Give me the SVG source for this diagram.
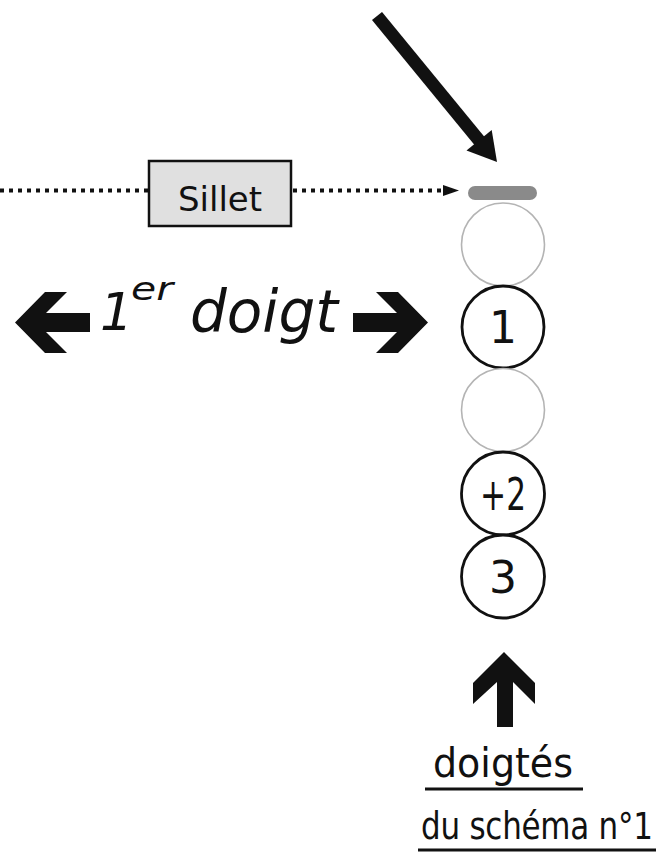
<svg xmlns="http://www.w3.org/2000/svg" width="663" height="854" viewBox="0 0 663 854">
<style>
  .txt { font-family: "DejaVu Sans", "Liberation Sans", sans-serif; fill: #111; }
  .ring { fill: #fff; stroke: #111; stroke-width: 2.8; }
  .faint { fill: #fff; stroke: #b4b4b4; stroke-width: 1.6; }
  .dots { stroke: #111; stroke-width: 4; stroke-dasharray: 4 5; fill: none; }
  .blk { fill: #111; }
  .ul { stroke: #111; stroke-width: 3; }
</style>
<rect width="663" height="854" fill="#fff"/>

<g id="connectors">
  <line x1="377" y1="16" x2="482" y2="144" stroke="#111" stroke-width="13"/>
  <polygon class="blk" points="497,162 491.7,130 466.5,150.5"/>
  <line class="dots" x1="0" y1="190.5" x2="149" y2="190.5"/>
  <line class="dots" x1="293" y1="190.5" x2="445" y2="190.5"/>
  <polygon class="blk" points="443,185 459,190.5 443,196"/>
  <polygon class="blk" points="15,322.5 45,292 67,292 46,313 90,313 90,332 46,332 67,353 45,353"/>
  <polygon class="blk" points="428,322.5 398,292 376,292 397,313 353,313 353,332 397,332 376,353 398,353"/>
  <polygon class="blk" points="504,652 535,683 535,704 513,682 513,727 497,727 497,682 473,704 473,683"/>
</g>

<g id="sillet">
  <rect x="149" y="161" width="142" height="65" fill="#e0e0e0" stroke="#111" stroke-width="2.5"/>
  <text class="txt" x="220" y="211" font-size="34" text-anchor="middle">Sillet</text>
</g>

<g id="nut">
  <rect x="468" y="186" width="69" height="14" rx="7" fill="#8a8a8a"/>
</g>

<g id="circle-open-1"><circle class="faint" cx="503" cy="244.5" r="41.5"/></g>
<g id="circle-1">
  <circle class="ring" cx="503" cy="327" r="41"/>
  <text class="txt" x="503" y="343" font-size="44" text-anchor="middle">1</text>
</g>
<g id="circle-open-2"><circle class="faint" cx="503" cy="410" r="41.5"/></g>
<g id="circle-2">
  <circle class="ring" cx="503" cy="493.5" r="41.5"/>
  <text class="txt" x="503" y="510" font-size="44" text-anchor="middle" textLength="46" lengthAdjust="spacingAndGlyphs">+2</text>
</g>
<g id="circle-3">
  <circle class="ring" cx="503" cy="576.5" r="41.5"/>
  <text class="txt" x="503" y="593" font-size="44" text-anchor="middle">3</text>
</g>

<g id="label-doigt">
  <text class="txt" font-style="italic"><tspan x="100" y="330" font-size="52">1</tspan><tspan x="131" y="300" font-size="32" textLength="42" lengthAdjust="spacingAndGlyphs">er</tspan><tspan x="190" y="332" font-size="58" textLength="148" lengthAdjust="spacingAndGlyphs">doigt</tspan></text>
</g>

<g id="label-doigtes">
  <text class="txt" x="503" y="777" font-size="40" text-anchor="middle" textLength="140" lengthAdjust="spacingAndGlyphs">doigtés</text>
  <line class="ul" x1="425" y1="789" x2="583" y2="789"/>
  <text class="txt" transform="translate(537,839) scale(1,1.2)" x="0" y="0" font-size="31" text-anchor="middle" textLength="232" lengthAdjust="spacing">du schéma n°1</text>
  <line class="ul" x1="418" y1="850" x2="656" y2="850"/>
</g>
</svg>
